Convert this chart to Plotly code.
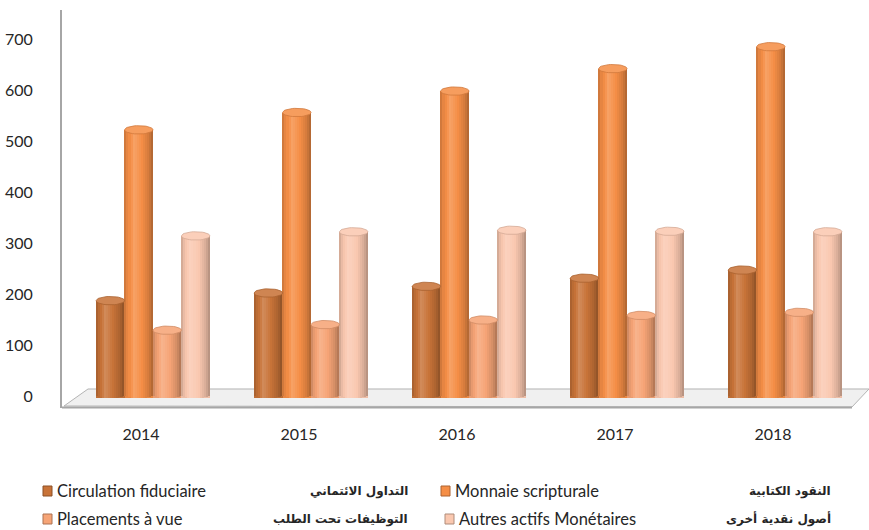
import numpy as np
import plotly.graph_objects as go

# --- data -----------------------------------------------------------------
years = ["2014", "2015", "2016", "2017", "2018"]
series_fr = ["Circulation fiduciaire", "Monnaie scripturale",
             "Placements à vue", "Autres actifs Monétaires"]
series_ar = ["التداول الائتماني", "النقود الكتابية",
             "التوظيفات تحت الطلب", "أصول نقدية أخرى"]
circulation = [183, 198, 211, 227, 243]
monnaie = [518, 552, 594, 638, 681]
placements = [125, 136, 145, 154, 160]
autres = [310, 318, 321, 319, 318]
values = [circulation, monnaie, placements, autres]
y_ticks = [0, 100, 200, 300, 400, 500, 600, 700]

# --- styling --------------------------------------------------------------
W, H = 869, 530
L, R, T, B = 62, 4, 10, 122
base_rgb = [(200, 115, 56), (245, 142, 70), (246, 164, 118), (250, 200, 176)]
offsets = [-0.27, -0.09, 0.09, 0.27]
bar_w = 0.18
x_range = [-0.576, 4.506]
y_range = [-27.5, 753]
plot_w = W - L - R
plot_h = H - T - B
units_per_px = (y_range[1] - y_range[0]) / plot_h
cap_h = 4.2 * units_per_px          # half height of cylinder ellipses
FONT = "Lato, 'Open Sans', sans-serif"
AR_FONT = "'DejaVu Sans', 'Noto Sans', sans-serif"


def shade(rgb, f):
    if f <= 1:
        c = [v * f for v in rgb]
    else:
        c = [v + (255 - v) * (f - 1) * 2.2 for v in rgb]
    return "rgb(%d,%d,%d)" % tuple(int(max(0, min(255, round(v)))) for v in c)


# brightness across the cylinder face, left to right
prof_t = [0.0, 0.08, 0.33, 0.6, 0.85, 1.0]
prof_f = [0.80, 0.92, 1.08, 1.0, 0.86, 0.70]

fig = go.Figure()
x_idx = np.arange(len(years))
N = 14
for s, vals in enumerate(values):
    rgb = base_rgb[s]
    xc = x_idx + offsets[s]
    # body of each cylinder
    fig.add_trace(go.Bar(x=xc, y=vals, width=bar_w, base=-cap_h * 0.9,
                         marker=dict(color=shade(rgb, 0.95), line_width=0),
                         hoverinfo="skip", showlegend=False))
    for k in range(N):
        t = (k + 0.5) / N
        f = float(np.interp(t, prof_t, prof_f))
        depth = cap_h * np.sqrt(max(0.0, 1 - (2 * t - 1) ** 2))
        xs = xc - bar_w / 2 + t * bar_w
        fig.add_trace(go.Bar(
            x=xs, y=[v + depth for v in vals], base=-depth,
            width=bar_w / N * 1.15,
            marker=dict(color=shade(rgb, f), line_width=0),
            hoverinfo="skip", showlegend=False))
    # top ellipse caps
    th = np.linspace(0, 2 * np.pi, 41)
    ex, ey = [], []
    for xv, v in zip(xc, vals):
        ex += list(xv + bar_w / 2 * np.cos(th)) + [None]
        ey += list(v + cap_h * np.sin(th)) + [None]
    fig.add_trace(go.Scatter(x=ex, y=ey, mode="lines", fill="toself",
                             fillcolor=shade(rgb, 1.06),
                             line=dict(color=shade(rgb, 0.85), width=0.8),
                             hoverinfo="skip", showlegend=False))


def px_x(px):
    return (px - L) / plot_w


def px_y(py):
    return (H - B - py) / plot_h


shapes = []
# floor of the plot
floor = [(64, 406), (88, 389), (869, 389), (852, 407)]
path = "M " + " L ".join("%f,%f" % (px_x(a), px_y(b)) for a, b in floor) + " Z"
shapes.append(dict(type="path", path=path, xref="paper", yref="paper",
                   fillcolor="#F0F0F0", line=dict(color="#B4B4B4", width=1),
                   layer="below"))
shapes.append(dict(type="line", xref="paper", yref="paper",
                   x0=px_x(62), x1=px_x(852), y0=px_y(407.5), y1=px_y(407.5),
                   line=dict(color="#A6A6A6", width=2)))

# legend
annotations = []
leg_rows = [491, 519]
leg_cols = [(43, 56, 409), (441, 454, 832)]
order = [(0, 0, 0), (1, 0, 1), (2, 1, 0), (3, 1, 1)]
for s, r, c in order:
    mx, tx, ax = leg_cols[c]
    if s == 3:
        mx, tx = mx + 4, tx + 4
    yc = leg_rows[r]
    shapes.append(dict(type="rect", xref="paper", yref="paper",
                       x0=px_x(mx), x1=px_x(mx + 9), y0=px_y(yc + 5),
                       y1=px_y(yc - 5), fillcolor=shade(base_rgb[s], 1.0),
                       line=dict(color=shade(base_rgb[s], 0.7), width=1)))
    annotations.append(dict(text=series_fr[s], xref="paper", yref="paper",
                            x=px_x(tx), y=px_y(yc), xanchor="left",
                            yanchor="middle", showarrow=False, borderpad=0,
                            font=dict(family=FONT, size=16.5, color="#262626")))
    annotations.append(dict(text="<b>" + series_ar[s] + "</b>", xref="paper",
                            yref="paper", x=px_x(ax), y=px_y(yc),
                            xanchor="right", yanchor="middle",
                            showarrow=False, borderpad=0,
                            font=dict(family=AR_FONT, size=12,
                                      color="#262626")))

fig.update_layout(
    width=W, height=H, barmode="overlay", bargap=0,
    margin=dict(l=L, r=R, t=T, b=B),
    plot_bgcolor="white", paper_bgcolor="white",
    shapes=shapes, annotations=annotations, showlegend=False,
    xaxis=dict(range=x_range, tickmode="array", tickvals=list(x_idx),
               ticktext=years, showgrid=False, zeroline=False,
               showline=False, ticks="", ticklabelshift=-12,
               ticklabelstandoff=15,
               tickfont=dict(family=FONT, size=16, color="#262626")),
    yaxis=dict(range=y_range, tickmode="array", tickvals=y_ticks,
               showgrid=False, zeroline=False, showline=True,
               linecolor="#A6A6A6", linewidth=2, ticks="",
               ticklabelstandoff=24, ticklabelshift=2,
               tickfont=dict(family=FONT, size=16, color="#262626")),
)

fig.write_html("out.html")
